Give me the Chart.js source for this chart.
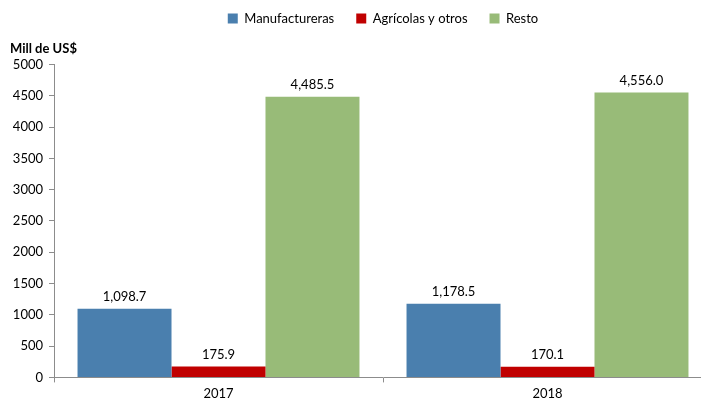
<!DOCTYPE html>
<html>
<head>
<meta charset="utf-8">
<script src="https://cdn.jsdelivr.net/npm/chart.js@4.4.0/dist/chart.umd.min.js"></script>
<style>
  html, body { margin: 0; padding: 0; background: #fff; overflow: hidden; }
  #wrap { width: 720px; height: 402px; position: relative; }
</style>
</head>
<body>
<div id="wrap"><canvas id="chart"></canvas></div>
<script>
// Data
const years = ['2017', '2018'];
const manufactureras = [1098.7, 1178.5];
const agricolas = [175.9, 170.1];
const resto = [4485.5, 4556.0];

const FONT = 'Lato, "Open Sans", sans-serif';
const AXIS_GRAY = '#8c8c8c';

// Value labels above each bar
const barLabels = {
  id: 'barLabels',
  afterDatasetsDraw(chart) {
    const ctx = chart.ctx;
    ctx.save();
    ctx.font = '13px ' + FONT;
    ctx.fillStyle = '#000';
    ctx.textAlign = 'center';
    ctx.textBaseline = 'bottom';
    chart.data.datasets.forEach((ds, i) => {
      chart.getDatasetMeta(i).data.forEach((bar, j) => {
        const txt = ds.data[j].toLocaleString('en-US', { minimumFractionDigits: 1, maximumFractionDigits: 1 });
        ctx.fillText(txt, bar.x, bar.y - 5);
      });
    });
    ctx.restore();
  },
};

new Chart(document.getElementById('chart'), {
  type: 'bar',
  data: {
    labels: years,
    datasets: [
      { label: 'Manufactureras', data: manufactureras, backgroundColor: '#4a7fae' },
      { label: 'Agrícolas y otros', data: agricolas, backgroundColor: '#c00000' },
      { label: 'Resto', data: resto, backgroundColor: '#98bb78' },
    ],
  },
  options: {
    responsive: true,
    maintainAspectRatio: false,
    animation: false,
    layout: { padding: { left: 10, right: 8, top: -10, bottom: -4 } },
    datasets: { bar: { barPercentage: 1, categoryPercentage: 0.857 } },
    plugins: {
      legend: {
        position: 'top',
        fullSize: false,
        labels: {
          font: { family: FONT, size: 13 },
          color: '#000',
          boxWidth: 10,
          boxHeight: 10,
          padding: 22,
        },
      },
      title: {
        display: true,
        text: 'Mill de US$',
        align: 'start',
        weight: 500,
        color: '#000',
        font: { family: FONT, size: 13, weight: 'bold' },
        padding: { top: 6, bottom: 8 },
      },
      tooltip: { enabled: false },
    },
    scales: {
      x: {
        grid: { drawOnChartArea: false, color: AXIS_GRAY, tickLength: 5 },
        border: { color: AXIS_GRAY },
        ticks: { font: { family: FONT, size: 13 }, color: '#000', padding: 4 },
      },
      y: {
        min: 0,
        max: 5000,
        afterFit: (s) => { s.width = 44; },
        grid: { drawOnChartArea: false, color: AXIS_GRAY, tickLength: 5 },
        border: { color: AXIS_GRAY },
        ticks: {
          stepSize: 500,
          font: { family: FONT, size: 13 },
          color: '#000',
          padding: 6,
          callback: (v) => String(v),
        },
      },
    },
  },
  plugins: [barLabels],
});
</script>
</body>
</html>
